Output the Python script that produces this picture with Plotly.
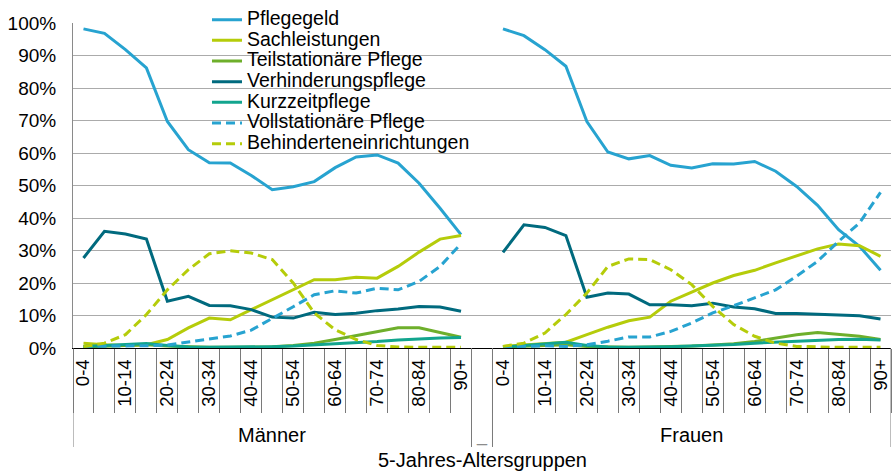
import plotly.graph_objects as go

ages = ["0-4", "5-9", "10-14", "15-19", "20-24", "25-29", "30-34", "35-39", "40-44",
        "45-49", "50-54", "55-59", "60-64", "65-69", "70-74", "75-79", "80-84", "85-89", "90+"]
groups = ["Männer", "Frauen"]
gap_label = "_"
x_title = "5-Jahres-Altersgruppen"

series_names = ["Pflegegeld", "Sachleistungen", "Teilstationäre Pflege", "Verhinderungspflege",
                "Kurzzeitpflege", "Vollstationäre Pflege", "Behinderteneinrichtungen"]
series_colors = ["#27A3D0", "#B5CC0A", "#6EAF2B", "#006A7E", "#12A58E", "#27A3D0", "#B5CC0A"]
series_dash = ["solid", "solid", "solid", "solid", "solid", "9px,5px", "9px,5px"]

# values in percent (Männer)
pflegegeld_m = [98.2, 96.8, 91.8, 86.2, 69.7, 61.0, 57.0, 56.9, 53.1, 48.7, 49.6, 51.2, 55.5, 58.8, 59.4, 56.9, 50.7, 43.0, 34.9]
sach_m = [1.5, 1.0, 0.8, 1.0, 2.6, 6.2, 9.2, 8.7, 11.8, 14.9, 18.0, 21.0, 21.0, 21.8, 21.5, 25.1, 29.5, 33.5, 34.6]
teil_m = [0.3, 0.5, 0.7, 1.0, 0.6, 0.3, 0.2, 0.2, 0.3, 0.4, 0.8, 1.5, 2.6, 3.8, 5.1, 6.2, 6.2, 4.8, 3.3]
verh_m = [27.7, 35.9, 35.1, 33.5, 14.4, 15.9, 13.1, 13.0, 11.8, 9.5, 9.2, 11.0, 10.3, 10.7, 11.5, 12.0, 12.8, 12.6, 11.3]
kurz_m = [0.5, 0.8, 1.1, 1.4, 0.8, 0.3, 0.2, 0.2, 0.3, 0.4, 0.6, 0.9, 1.2, 1.5, 2.0, 2.5, 2.9, 3.1, 3.2]
voll_m = [0.5, 0.5, 0.6, 0.7, 0.9, 1.8, 2.8, 3.7, 5.5, 9.0, 12.7, 16.4, 17.6, 16.9, 18.4, 17.9, 20.5, 25.1, 32.1]
behind_m = [0.4, 1.5, 4.1, 10.3, 17.9, 24.1, 29.0, 29.9, 29.2, 27.2, 20.0, 10.8, 5.6, 2.6, 0.8, 0.3, 0.2, 0.2, 0.2]

# values in percent (Frauen)
pflegegeld_f = [98.2, 96.1, 91.8, 86.7, 69.7, 60.3, 58.2, 59.2, 56.2, 55.4, 56.7, 56.6, 57.4, 54.4, 49.7, 43.9, 36.4, 31.3, 23.9]
sach_f = [0.5, 1.0, 1.3, 1.8, 4.1, 6.4, 8.4, 9.5, 14.4, 17.2, 20.0, 22.3, 23.9, 26.2, 28.4, 30.5, 32.0, 31.5, 28.2]
teil_f = [0.3, 0.5, 0.8, 1.0, 0.5, 0.3, 0.2, 0.3, 0.4, 0.6, 0.9, 1.3, 2.0, 3.1, 4.1, 4.8, 4.3, 3.6, 2.6]
verh_f = [29.4, 37.9, 37.1, 34.6, 15.6, 16.9, 16.6, 13.3, 13.3, 13.0, 13.8, 12.6, 12.1, 10.6, 10.6, 10.4, 10.3, 9.9, 8.9]
kurz_f = [0.3, 0.8, 1.3, 1.8, 0.8, 0.3, 0.2, 0.2, 0.4, 0.6, 0.8, 1.1, 1.5, 1.8, 2.1, 2.4, 2.6, 2.7, 2.5]
voll_f = [0.3, 0.5, 0.7, 0.5, 1.0, 2.1, 3.4, 3.4, 5.1, 7.7, 10.8, 13.0, 15.4, 17.9, 22.1, 26.7, 32.8, 38.5, 47.9]
behind_f = [0.5, 1.5, 4.6, 10.3, 16.9, 25.1, 27.4, 27.2, 24.1, 19.5, 12.8, 7.2, 3.6, 1.5, 0.5, 0.3, 0.2, 0.2, 0.2]

male_series = [pflegegeld_m, sach_m, teil_m, verh_m, kurz_m, voll_m, behind_m]
female_series = [pflegegeld_f, sach_f, teil_f, verh_f, kurz_f, voll_f, behind_f]

FONT = "Liberation Sans, Arial, sans-serif"

# category keys: Männer ages, one empty gap category, Frauen ages
male_keys = [groups[0] + " " + a for a in ages]
female_keys = [groups[1] + " " + a for a in ages]
gap_key = "gap"
cat_keys = male_keys + [gap_key] + female_keys
tick_text = [a if i % 2 == 0 else "" for i, a in enumerate(ages)]
tick_text_all = tick_text + [""] + tick_text

fig = go.Figure()
for name, color, dash, ym, yf in zip(series_names, series_colors, series_dash, male_series, female_series):
    fig.add_trace(go.Scatter(
        x=cat_keys, y=ym + [None] + yf, mode="lines",
        name='<span style="font-size:19.5px">' + name + '</span>',
        line=dict(color=color, width=3, dash=dash),
        connectgaps=False, hoverinfo="skip",
    ))

n_m = len(ages)
# group dividers (extend through the group-label band)
for xb in [-0.5, n_m - 0.5, n_m + 0.5, 2 * n_m + 0.5]:
    fig.add_shape(type="line", xref="x", yref="paper", x0=xb, x1=xb, y0=0, y1=-0.3046,
                  line=dict(color="#7a7a7a", width=1))

fig.add_annotation(x=(n_m - 1) / 2, xref="x", y=-0.2662, yref="paper", yanchor="middle",
                   text=groups[0], showarrow=False, font=dict(family=FONT, size=20, color="#000"))
fig.add_annotation(x=n_m + 1 + (n_m - 1) / 2, xref="x", y=-0.2662, yref="paper", yanchor="middle",
                   text=groups[1], showarrow=False, font=dict(family=FONT, size=20, color="#000"))
fig.add_annotation(x=n_m, xref="x", y=-0.2698, yref="paper", yanchor="middle",
                   text=gap_label, showarrow=False, font=dict(family=FONT, size=18, color="#8c8c8c"))
fig.add_annotation(x=0.5, xref="paper", y=-0.3447, yref="paper", yanchor="middle",
                   text=x_title, showarrow=False, font=dict(family=FONT, size=20, color="#000"))

fig.update_layout(
    width=892, height=472,
    margin=dict(l=73, r=1, t=23, b=124, autoexpand=False),
    paper_bgcolor="white", plot_bgcolor="white",
    font=dict(family=FONT, size=19, color="#000"),
    showlegend=True,
    legend=dict(x=0.1638, y=1.0575, xanchor="left", yanchor="top",
                bgcolor="rgba(0,0,0,0)", font=dict(family=FONT, size=13.6, color="#000"),
                traceorder="normal"),
    xaxis=dict(type="category", categoryorder="array", categoryarray=cat_keys,
               tickmode="array", tickvals=cat_keys, ticktext=tick_text_all,
               tickangle=-90, tickson="boundaries", ticks="outside", ticklen=64,
               tickcolor="#7a7a7a", tickwidth=1, ticklabelstandoff=3,
               tickfont=dict(family=FONT, size=18.5, color="#000"), automargin=False,
               showline=True, linecolor="#000", linewidth=1, showgrid=False,
               zeroline=False, range=[-0.5, 2 * n_m + 0.5], fixedrange=True),
    yaxis=dict(range=[0, 100], dtick=10, ticksuffix="%", showgrid=True, automargin=False,
               gridcolor="#ababab", gridwidth=1, showline=True, linecolor="#8a8a8a",
               zeroline=False, ticks="", ticklabelstandoff=12,
               tickfont=dict(family=FONT, size=19, color="#000"), fixedrange=True),
)

fig.write_html("out.html", config={"displayModeBar": False},
               post_script="document.body.style.margin='0';")
